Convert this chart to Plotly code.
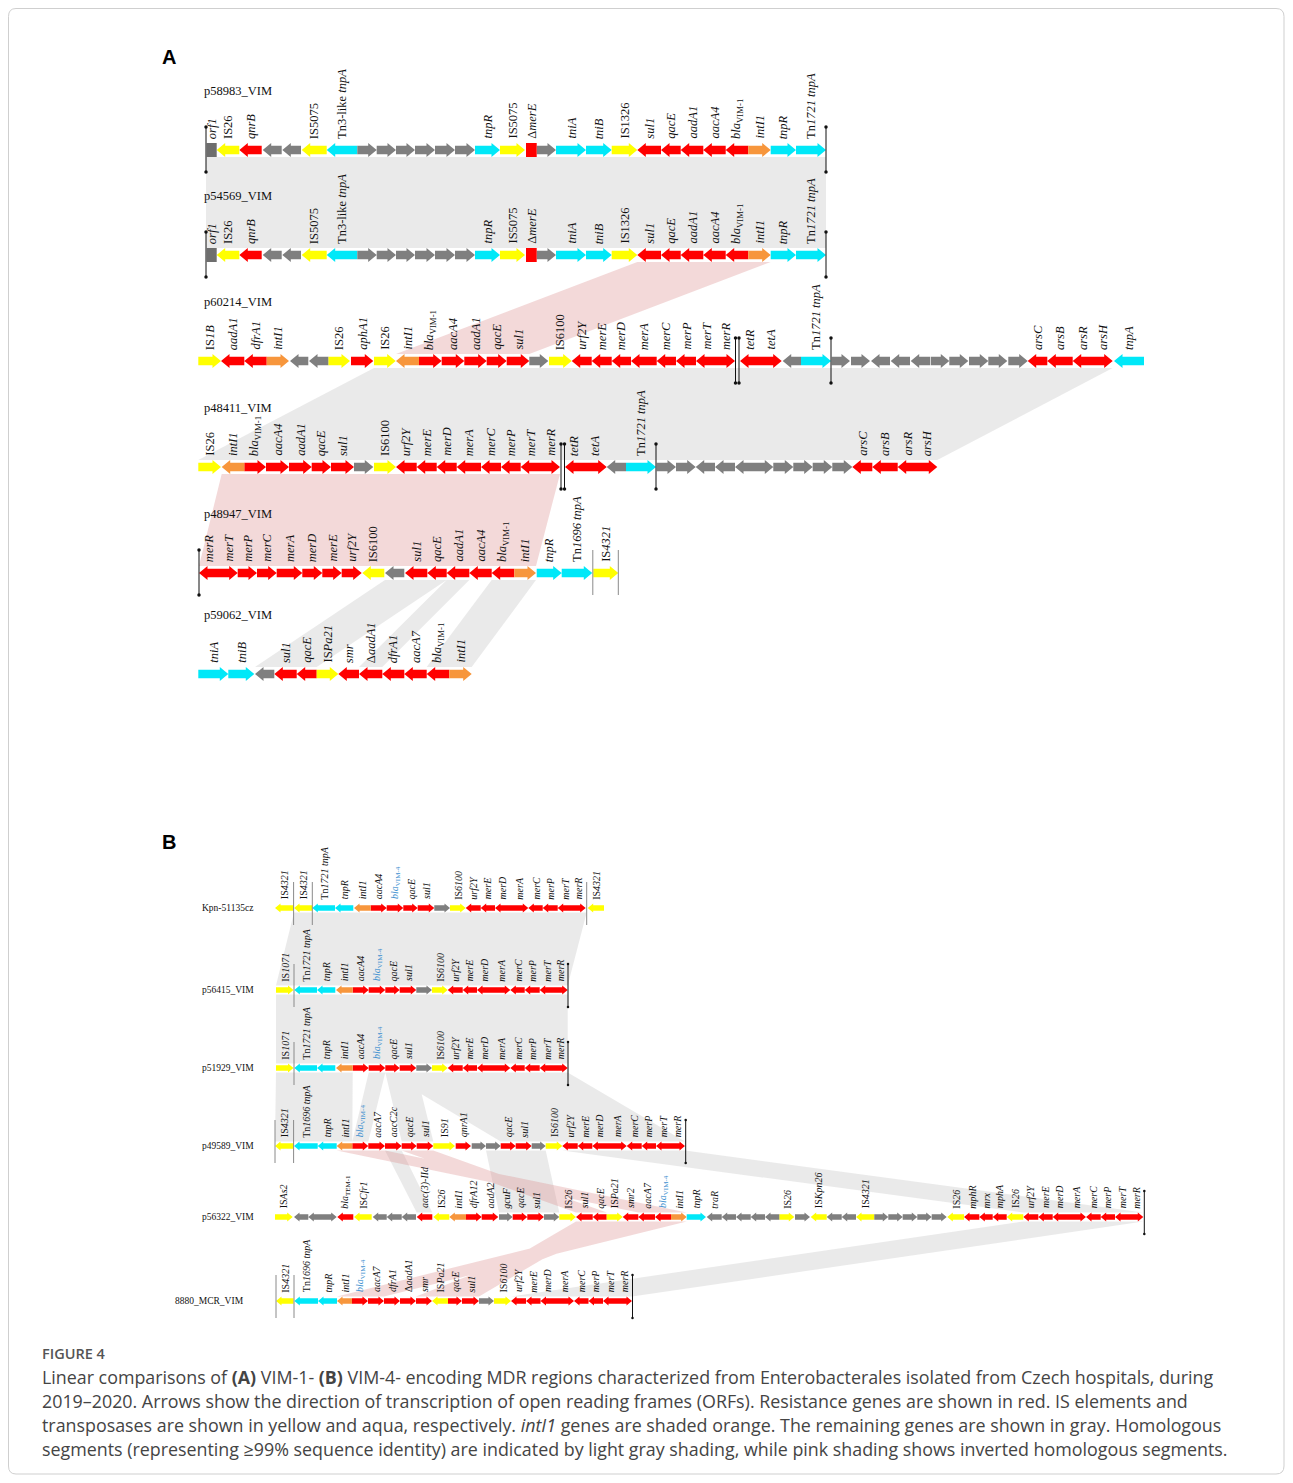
import plotly.graph_objects as go

W, H_PX = 1293, 1483
OFF = 8  # browser body margin

# ---------------- DATA ----------------
# gene tuples: (label, start, end, strand, kind)  strand: 1 right, -1 left, 0 box
# kind: R red, Y yellow(IS), C aqua(transposase), O orange(intI1), G gray, D dark-gray box, X red box
BLA1 = "<i>bla</i><sub>VIM-1</sub>"
BLA4 = "<span style='color:#3d8fcf'><i>bla</i><sub>VIM-4</sub></span>"

A_TITLES = ["p58983_VIM", "p54569_VIM", "p60214_VIM", "p48411_VIM", "p48947_VIM", "p59062_VIM"]
A_TITLE_Y = [91, 196, 302, 408, 514, 615]
A_TRACK_Y = [150, 255, 361, 467, 573, 674]

A1_GENES = [
    ("<i>orf1</i>", 206.7, 216.7, 0, "D"), ("IS26", 216.7, 239.3, -1, "Y"),
    ("<i>qnrB</i>", 239.3, 261.7, -1, "R"), ("", 262.7, 281.7, -1, "G"), ("", 282.3, 301, -1, "G"),
    ("IS5075", 301.7, 326.7, -1, "Y"), ("Tn3-like <i>tnpA</i>", 326.7, 357.3, -1, "C"),
    ("", 357.3, 376.7, 1, "G"), ("", 376.7, 396, 1, "G"), ("", 396, 415, 1, "G"),
    ("", 415, 435, 1, "G"), ("", 435, 455, 1, "G"), ("", 455, 475, 1, "G"),
    ("<i>tnpR</i>", 475, 500, 1, "C"), ("IS5075", 500, 525, 1, "Y"),
    ("Δ<i>merE</i>", 526, 536.7, 0, "X"), ("", 536.7, 556, 1, "G"),
    ("<i>tniA</i>", 556, 586, 1, "C"), ("<i>tniB</i>", 586, 611.7, 1, "C"),
    ("IS1326", 611.7, 637.3, 1, "Y"), ("<i>sul1</i>", 637.3, 661, -1, "R"),
    ("<i>qacE</i>", 661, 680.7, -1, "R"), ("<i>aadA1</i>", 680.7, 703.3, -1, "R"),
    ("<i>aacA4</i>", 703.3, 725.7, -1, "R"), (BLA1, 725.7, 748.3, -1, "R"),
    ("<i>intI1</i>", 748.3, 770.7, 1, "O"), ("<i>tnpR</i>", 770.7, 796, 1, "C"),
    ("Tn<i>1721 tnpA</i>", 796, 826, 1, "C"),
]
A2_GENES = list(A1_GENES)
A3_GENES = [
    ("IS<i>1B</i>", 198.3, 221, 1, "Y"), ("<i>aadA1</i>", 221, 244.3, -1, "R"),
    ("<i>dfrA1</i>", 244.3, 266.7, -1, "R"), ("<i>intI1</i>", 266.7, 289, 1, "O"),
    ("", 290, 308.3, -1, "G"), ("", 309, 328.3, -1, "G"), ("IS26", 328.3, 350, 1, "Y"),
    ("<i>aphA1</i>", 351, 373.3, 1, "R"), ("IS26", 374, 395.7, 1, "Y"),
    ("<i>intI1</i>", 396, 419, -1, "O"), (BLA1, 419, 441.7, 1, "R"),
    ("<i>aacA4</i>", 441.7, 464.3, 1, "R"), ("<i>aadA1</i>", 464.3, 486.7, 1, "R"),
    ("<i>qacE</i>", 486.7, 506.7, 1, "R"), ("<i>sul1</i>", 506.7, 529.3, 1, "R"),
    ("", 529.3, 548.3, 1, "G"), ("IS6100", 549, 571.7, 1, "Y"),
    ("<i>urf2Y</i>", 571.7, 591.7, -1, "R"), ("<i>merE</i>", 591.7, 611.7, -1, "R"),
    ("<i>merD</i>", 611.7, 631, -1, "R"), ("<i>merA</i>", 631, 656.7, -1, "R"),
    ("<i>merC</i>", 656.7, 676, -1, "R"), ("<i>merP</i>", 676, 696, -1, "R"),
    ("<i>merT</i>", 696, 716, -1, "R"), ("<i>merR</i>", 716, 735, 1, "R"),
    ("<i>tetR</i>", 740, 759.3, -1, "R"), ("<i>tetA</i>", 759.3, 781.7, 1, "R"),
    ("", 782.7, 801, -1, "G"), ("Tn<i>1721 tnpA</i>", 801, 831, 1, "C"),
    ("", 831.7, 850, 1, "G"), ("", 851, 870, 1, "G"), ("", 871, 890, -1, "G"),
    ("", 890.7, 910, -1, "G"), ("", 910.7, 930, -1, "G"), ("", 930.7, 949.3, 1, "G"),
    ("", 949.3, 968.3, 1, "G"), ("", 969, 988.3, 1, "G"), ("", 988.3, 1007.3, 1, "G"),
    ("", 1008.3, 1027.7, 1, "G"), ("<i>arsC</i>", 1027.7, 1047.3, -1, "R"),
    ("<i>arsB</i>", 1047.3, 1072.7, -1, "R"), ("<i>arsR</i>", 1072.7, 1093.3, -1, "R"),
    ("<i>arsH</i>", 1093.3, 1112.7, 1, "R"), ("<i>tnpA</i>", 1114, 1144, -1, "C"),
]
A4_GENES = [
    ("IS26", 198.3, 221, 1, "Y"), ("<i>intI1</i>", 221.7, 244.3, -1, "O"),
    (BLA1, 244.3, 266, 1, "R"), ("<i>aacA4</i>", 266, 289, 1, "R"),
    ("<i>aadA1</i>", 289, 311.7, 1, "R"), ("<i>qacE</i>", 311.7, 331, 1, "R"),
    ("<i>sul1</i>", 331, 354, 1, "R"), ("", 354, 373.3, 1, "G"),
    ("IS6100", 374, 396, 1, "Y"), ("<i>urf2Y</i>", 396, 416.7, -1, "R"),
    ("<i>merE</i>", 416.7, 436.7, -1, "R"), ("<i>merD</i>", 436.7, 456.7, -1, "R"),
    ("<i>merA</i>", 456.7, 481, -1, "R"), ("<i>merC</i>", 481, 501, -1, "R"),
    ("<i>merP</i>", 501, 520.7, -1, "R"), ("<i>merT</i>", 520.7, 540.7, -1, "R"),
    ("<i>merR</i>", 540.7, 560, 1, "R"), ("<i>tetR</i>", 565, 583.3, -1, "R"),
    ("<i>tetA</i>", 583.3, 606.7, 1, "R"), ("", 606.7, 626, -1, "G"),
    ("Tn<i>1721 tnpA</i>", 626, 656, 1, "C"),
    ("", 656.7, 676, 1, "G"), ("", 676, 695.7, 1, "G"), ("", 695.7, 715, -1, "G"),
    ("", 715, 735, -1, "G"), ("", 735, 754, -1, "G"), ("", 754, 773.3, 1, "G"),
    ("", 773.3, 793.3, 1, "G"), ("", 793.3, 812.7, 1, "G"), ("", 812.7, 832.3, 1, "G"),
    ("", 832.3, 852.3, 1, "G"), ("<i>arsC</i>", 852.3, 872.3, -1, "R"),
    ("<i>arsB</i>", 872.3, 897.7, -1, "R"), ("<i>arsR</i>", 897.7, 917.3, -1, "R"),
    ("<i>arsH</i>", 917.3, 937.3, 1, "R"),
]
A5_GENES = [
    ("<i>merR</i>", 199, 218.3, -1, "R"), ("<i>merT</i>", 218.3, 237.7, 1, "R"),
    ("<i>merP</i>", 237.7, 257, 1, "R"), ("<i>merC</i>", 257, 276.7, 1, "R"),
    ("<i>merA</i>", 276.7, 302.3, 1, "R"), ("<i>merD</i>", 302.3, 322.3, 1, "R"),
    ("<i>merE</i>", 322.3, 341.7, 1, "R"), ("<i>urf2Y</i>", 341.7, 361.7, 1, "R"),
    ("IS6100", 362.3, 384.3, -1, "Y"), ("", 385, 404.3, -1, "G"),
    ("<i>sul1</i>", 405, 427.3, -1, "R"), ("<i>qacE</i>", 427.3, 446.7, -1, "R"),
    ("<i>aadA1</i>", 446.7, 469.3, -1, "R"), ("<i>aacA4</i>", 469.3, 491.7, -1, "R"),
    (BLA1, 491.7, 514.3, -1, "R"), ("<i>intI1</i>", 514.3, 536, 1, "O"),
    ("<i>tnpR</i>", 536.7, 561.7, 1, "C"), ("Tn<i>1696 tnpA</i>", 561.7, 592.3, 1, "C"),
    ("IS<i>4321</i>", 593.3, 618.3, 1, "Y"),
]
A6_GENES = [
    ("<i>tniA</i>", 198.3, 228.3, 1, "C"), ("<i>tniB</i>", 228.3, 254.3, 1, "C"),
    ("", 255, 274.3, -1, "G"), ("<i>sul1</i>", 274.3, 296.7, -1, "R"),
    ("<i>qacE</i>", 296.7, 316.7, -1, "R"), ("IS<i>Pa21</i>", 316.7, 338.3, 1, "Y"),
    ("<i>smr</i>", 338.3, 359, -1, "R"), ("Δ<i>aadA1</i>", 359, 382.3, -1, "R"),
    ("<i>dfrA1</i>", 382.3, 404.3, -1, "R"), ("<i>aacA7</i>", 404.3, 426.7, -1, "R"),
    (BLA1, 426.7, 449.3, -1, "R"), ("<i>intI1</i>", 449.3, 471.7, 1, "O"),
]
A_GENES = [A1_GENES, A2_GENES, A3_GENES, A4_GENES, A5_GENES, A6_GENES]

# end / junction bars: (track index, x, color)
A_BARS = [(0, 206, "k"), (0, 826, "k"), (1, 206, "k"), (1, 826, "k"),
          (2, 735.5, "k"), (2, 739, "k"), (2, 831, "k"),
          (3, 561, "k"), (3, 564.5, "k"), (3, 656, "k"),
          (4, 199, "k"), (4, 592.8, "g"), (4, 618.3, "g")]

# homology links: (upper track, x0_top, x1_top, x0_bottom, x1_bottom, kind g=same p=inverted)
A_LINKS = [
    (0, 206, 826, 206, 826, "g"),
    (1, 637.3, 770.7, 396, 529.3, "p"),
    (2, 374, 1112.7, 198.3, 937.3, "g"),
    (3, 221.7, 560, 199, 536, "p"),
    (4, 385, 446.7, 255, 316.7, "g"),
    (4, 446.7, 469.3, 359, 382.3, "g"),
    (4, 491.7, 536, 426.7, 471.7, "g"),
]

B_TITLES = ["Kpn-51135cz", "p56415_VIM", "p51929_VIM", "p49589_VIM", "p56322_VIM", "8880_MCR_VIM"]
B_TRACK_Y = [908, 990, 1068, 1146, 1217, 1301]

B1_GENES = [
    ("IS<i>4321</i>", 275, 293.3, -1, "Y"), ("IS<i>4321</i>", 294, 312.3, -1, "Y"),
    ("Tn<i>1721 tnpA</i>", 312.3, 335, -1, "C"), ("<i>tnpR</i>", 335, 353.3, -1, "C"),
    ("<i>intI1</i>", 354, 370.7, -1, "O"), ("<i>aacA4</i>", 370.7, 386.7, 1, "R"),
    (BLA4, 386.7, 403.3, 1, "R"), ("<i>qacE</i>", 403.3, 417.7, 1, "R"),
    ("<i>sul1</i>", 417.7, 434.3, 1, "R"), ("", 434.3, 450, 1, "G"),
    ("IS<i>6100</i>", 450, 465.7, 1, "Y"), ("<i>urf2Y</i>", 465.7, 480.7, -1, "R"),
    ("<i>merE</i>", 480.7, 495, -1, "R"), ("<i>merD</i>", 495, 509, -1, "R"),
    ("<i>merA</i>", 509, 528.3, 1, "R"), ("<i>merC</i>", 528.3, 542.7, -1, "R"),
    ("<i>merP</i>", 542.7, 557.7, -1, "R"), ("<i>merT</i>", 557.7, 571.7, -1, "R"),
    ("<i>merR</i>", 571.7, 585.7, 1, "R"), ("IS<i>4321</i>", 587.7, 604, -1, "Y"),
]
B2_GENES = [
    ("IS<i>1071</i>", 276, 293.5, 1, "Y"), ("Tn<i>1721 tnpA</i>", 294.3, 317, -1, "C"),
    ("<i>tnpR</i>", 317, 335.3, -1, "C"), ("<i>intI1</i>", 336, 352.7, -1, "O"),
    ("<i>aacA4</i>", 352.7, 368.7, 1, "R"), (BLA4, 368.7, 385.3, 1, "R"),
    ("<i>qacE</i>", 385.3, 399.7, 1, "R"), ("<i>sul1</i>", 399.7, 416.3, 1, "R"),
    ("", 416.3, 432, 1, "G"), ("IS<i>6100</i>", 432, 447.7, 1, "Y"),
    ("<i>urf2Y</i>", 447.7, 462.7, -1, "R"), ("<i>merE</i>", 462.7, 477, -1, "R"),
    ("<i>merD</i>", 477, 491, -1, "R"), ("<i>merA</i>", 491, 510.3, 1, "R"),
    ("<i>merC</i>", 510.3, 524.7, -1, "R"), ("<i>merP</i>", 524.7, 539.7, -1, "R"),
    ("<i>merT</i>", 539.7, 553.7, -1, "R"), ("<i>merR</i>", 553.7, 567.7, 1, "R"),
]
B3_GENES = list(B2_GENES)
B4_GENES = [
    ("IS<i>4321</i>", 275, 293.3, -1, "Y"), ("Tn<i>1696 tnpA</i>", 294, 317.7, -1, "C"),
    ("<i>tnpR</i>", 317.7, 336.7, -1, "C"), ("<i>intI1</i>", 336.7, 352.3, -1, "O"),
    (BLA4, 352.3, 368.3, 1, "R"), ("<i>aacA7</i>", 368.3, 385, 1, "R"),
    ("<i>aacC2c</i>", 385, 401.7, 1, "R"), ("<i>qacE</i>", 401.7, 416.7, 1, "R"),
    ("<i>sul1</i>", 416.7, 433.3, 1, "R"), ("IS<i>91</i>", 433.3, 455, 1, "Y"),
    ("<i>qnrA1</i>", 455.7, 471, 1, "R"), ("", 471.7, 486, 1, "G"),
    ("", 486, 500.7, 1, "G"), ("<i>qacE</i>", 500.7, 515.7, 1, "R"),
    ("<i>sul1</i>", 515.7, 531.7, 1, "R"), ("", 531.7, 545.7, 1, "G"),
    ("IS<i>6100</i>", 545.7, 562.3, 1, "Y"), ("<i>urf2Y</i>", 562.3, 577.7, -1, "R"),
    ("<i>merE</i>", 577.7, 592.3, -1, "R"), ("<i>merD</i>", 592.3, 607.3, -1, "R"),
    ("<i>merA</i>", 607.3, 626.7, 1, "R"), ("<i>merC</i>", 626.7, 641.7, -1, "R"),
    ("<i>merP</i>", 641.7, 656, -1, "R"), ("<i>merT</i>", 656, 670.7, -1, "R"),
    ("<i>merR</i>", 670.7, 685, 1, "R"),
]
B5_GENES = [
    ("IS<i>As2</i>", 275, 292.7, 1, "Y"), ("", 294, 308.3, -1, "G"),
    ("", 308.3, 322.7, -1, "G"), ("", 322.7, 336.7, 1, "G"),
    ("<i>bla</i><sub>TEM-1</sub>", 337.3, 353.3, -1, "R"), ("IS<i>Cfr1</i>", 354, 371.7, -1, "Y"),
    ("", 372.7, 386.7, -1, "G"), ("", 386.7, 401.7, -1, "G"), ("", 401.7, 416, -1, "G"),
    ("<i>aac(3)-IId</i>", 416.7, 432.3, -1, "R"), ("IS<i>26</i>", 433.3, 449.3, -1, "Y"),
    ("<i>intI1</i>", 449.3, 466, -1, "O"), ("<i>dfrA12</i>", 466, 481.7, 1, "R"),
    ("<i>aadA2</i>", 481.7, 498.3, 1, "R"), ("<i>gcuF</i>", 499, 512.7, 1, "G"),
    ("<i>qacE</i>", 512.7, 527.3, 1, "R"), ("<i>sul1</i>", 527.3, 544, 1, "R"),
    ("", 544, 559.3, 1, "G"), ("IS<i>26</i>", 559.3, 576, 1, "Y"),
    ("<i>sul1</i>", 576, 592.7, -1, "R"), ("<i>qacE</i>", 592.7, 606.7, -1, "R"),
    ("IS<i>Pa21</i>", 606.7, 622.7, 1, "Y"), ("<i>smr2</i>", 622.7, 638.3, -1, "R"),
    ("<i>aacA7</i>", 638.3, 655, -1, "R"), (BLA4, 655, 671, -1, "R"),
    ("<i>intI1</i>", 671, 686.7, 1, "O"), ("<i>tnpR</i>", 686.7, 706, 1, "C"),
    ("<i>traR</i>", 706.7, 721.7, -1, "G"), ("", 721.7, 736, -1, "G"),
    ("", 736, 750.7, -1, "G"), ("", 750.7, 765, -1, "G"), ("", 765, 779.3, -1, "G"),
    ("IS<i>26</i>", 779.3, 794.3, 1, "Y"), ("", 795, 810, 1, "G"),
    ("IS<i>Kpn26</i>", 810.7, 826.7, -1, "Y"), ("", 826.7, 841.7, -1, "G"),
    ("", 841.7, 856, -1, "G"), ("IS<i>4321</i>", 856, 874.3, -1, "Y"),
    ("", 874.3, 888.3, 1, "G"), ("", 888.3, 902.7, 1, "G"), ("", 902.7, 917.3, 1, "G"),
    ("", 917.3, 931.7, 1, "G"), ("", 931.7, 946.7, 1, "G"),
    ("IS<i>26</i>", 947.3, 964, -1, "Y"), ("<i>mphR</i>", 964, 979.3, -1, "R"),
    ("<i>mrx</i>", 979.3, 992.7, -1, "R"), ("<i>mphA</i>", 992.7, 1006.7, -1, "R"),
    ("IS<i>26</i>", 1006.7, 1023.3, -1, "Y"), ("<i>urf2Y</i>", 1023.3, 1038.3, -1, "R"),
    ("<i>merE</i>", 1038.3, 1052.7, -1, "R"), ("<i>merD</i>", 1052.7, 1066.7, -1, "R"),
    ("<i>merA</i>", 1066.7, 1086, 1, "R"), ("<i>merC</i>", 1086, 1100.7, -1, "R"),
    ("<i>merP</i>", 1100.7, 1115, -1, "R"), ("<i>merT</i>", 1115, 1129.3, -1, "R"),
    ("<i>merR</i>", 1129.3, 1143.3, 1, "R"),
]
B6_GENES = [
    ("IS<i>4321</i>", 276, 293.5, -1, "Y"), ("Tn<i>1696 tnpA</i>", 294.3, 318, -1, "C"),
    ("<i>tnpR</i>", 318, 337, -1, "C"), ("<i>intI1</i>", 337, 352, -1, "O"),
    (BLA4, 352, 368, 1, "R"), ("<i>aacA7</i>", 368, 384, 1, "R"),
    ("<i>dfrA1</i>", 384, 400, 1, "R"), ("Δ<i>aadA1</i>", 400, 416, 1, "R"),
    ("<i>smr</i>", 416, 432, 1, "R"), ("IS<i>Pa21</i>", 432, 448, -1, "Y"),
    ("<i>qacE</i>", 448, 462, 1, "R"), ("<i>sul1</i>", 462, 479, 1, "R"),
    ("", 479, 494, 1, "G"), ("IS<i>6100</i>", 494, 511, 1, "Y"),
    ("<i>urf2Y</i>", 511, 526, -1, "R"), ("<i>merE</i>", 526, 540.5, -1, "R"),
    ("<i>merD</i>", 540.5, 554.5, -1, "R"), ("<i>merA</i>", 554.5, 574, 1, "R"),
    ("<i>merC</i>", 574, 588.5, -1, "R"), ("<i>merP</i>", 588.5, 603, -1, "R"),
    ("<i>merT</i>", 603, 617.5, -1, "R"), ("<i>merR</i>", 617.5, 632, 1, "R"),
]
B_GENES = [B1_GENES, B2_GENES, B3_GENES, B4_GENES, B5_GENES, B6_GENES]

B_BARS = [(0, 293.6, "g"), (0, 312.3, "g"), (0, 586.7, "g"),
          (1, 294, "g"), (1, 568, "k"), (2, 294, "g"), (2, 568, "k"),
          (3, 275, "g"), (3, 293.6, "g"), (3, 685.7, "k"),
          (4, 1144.3, "k"),
          (5, 276, "g"), (5, 294, "g"), (5, 632.5, "k")]

B_LINKS = [
    (0, 294, 586.7, 276, 567.7, "g"),
    (1, 276, 567.7, 276, 567.7, "g"),
    (2, 276, 352.7, 275, 352.3, "g"),
    (2, 368.7, 385.3, 352.3, 368.3, "g"),
    (2, 385.3, 416.3, 401.7, 433.3, "g"),
    (2, 385.3, 416.3, 500.7, 531.7, "g"),
    (2, 416.3, 567.7, 531.7, 685, "g"),
    (3, 562.3, 685, 1023.3, 1143.3, "g"),
    (3, 336.7, 385, 638.3, 686.7, "p"),
    (3, 401.7, 433.3, 576, 606.7, "p"),
    (3, 486, 545.7, 499, 559.3, "g"),
    (3, 385, 401.7, 416.7, 432.3, "g"),
    (4, 1023.3, 1143.3, 511, 632, "g"),
    (4, 576, 606.7, 448, 479, "p"),
    (4, 606.7, 638.3, 416, 448, "p"),
    (4, 638.3, 686.7, 337, 384, "p"),
]

CAPTION_LINES = [
    "Linear comparisons of <b>(A)</b> VIM-1- <b>(B)</b> VIM-4- encoding MDR regions characterized from Enterobacterales isolated from Czech hospitals, during",
    "2019–2020. Arrows show the direction of transcription of open reading frames (ORFs). Resistance genes are shown in red. IS elements and",
    "transposases are shown in yellow and aqua, respectively. <i>intI1</i> genes are shaded orange. The remaining genes are shown in gray. Homologous",
    "segments (representing ≥99% sequence identity) are indicated by light gray shading, while pink shading shows inverted homologous segments.",
]

# ---------------- STYLE ----------------
COLORS = {"R": "#ff0000", "Y": "#ffff00", "C": "#00e8f8", "O": "#f7963c",
          "G": "#7f7f7f", "D": "#6e6e6e", "X": "#ff0000"}
LINK_COLORS = {"g": "rgba(200,200,200,0.38)", "p": "rgba(220,140,140,0.33)"}
SERIF = "Liberation Serif"

fig = go.Figure()


def arrow_pts(x0, x1, s, yc, hh, bh, hl):
    if s == 0:
        return [(x0, yc - hh), (x1, yc - hh), (x1, yc + hh), (x0, yc + hh)]
    L = min(hl, (x1 - x0) * 0.6)
    if s == 1:
        return [(x0, yc - bh), (x1 - L, yc - bh), (x1 - L, yc - hh), (x1, yc),
                (x1 - L, yc + hh), (x1 - L, yc + bh), (x0, yc + bh)]
    return [(x1, yc - bh), (x0 + L, yc - bh), (x0 + L, yc - hh), (x0, yc),
            (x0 + L, yc + hh), (x0 + L, yc + bh), (x1, yc + bh)]


def add_links(links, ys, hh):
    for kind in ("g", "p"):
        xs, yy = [], []
        for (t, a0, a1, b0, b1, k) in links:
            if k != kind:
                continue
            yt, yb = ys[t] + hh, ys[t + 1] - hh
            xs += [a0, a1, b1, b0, a0, None]
            yy += [yt, yt, yb, yb, yt, None]
        fig.add_trace(go.Scatter(x=xs, y=yy, mode="lines", fill="toself",
                                 fillcolor=LINK_COLORS[kind], line=dict(width=0),
                                 hoverinfo="skip", showlegend=False))


def add_genes(tracks, ys, hh, bh, hl, fsize, lab_gap):
    for kind, col in COLORS.items():
        xs, yy = [], []
        for genes, yc in zip(tracks, ys):
            for (lab, x0, x1, s, k) in genes:
                if k != kind:
                    continue
                pts = arrow_pts(x0, x1, s, yc, hh, bh, hl)
                xs += [p[0] for p in pts] + [pts[0][0], None]
                yy += [p[1] for p in pts] + [pts[0][1], None]
        if xs:
            fig.add_trace(go.Scatter(x=xs, y=yy, mode="lines", fill="toself",
                                     fillcolor=col, line=dict(width=0),
                                     hoverinfo="skip", showlegend=False))
    for genes, yc in zip(tracks, ys):
        for (lab, x0, x1, s, k) in genes:
            if not lab:
                continue
            fig.add_annotation(x=(x0 + x1) / 2, y=yc - hh - lab_gap, text=lab,
                               textangle=-90, showarrow=False, xanchor="center",
                               yanchor="bottom",
                               font=dict(family=SERIF, size=fsize, color="#111"))


def add_bars(bars, ys, up, down, dot):
    for (t, x, c) in bars:
        if c == "k":
            fig.add_trace(go.Scatter(x=[x, x], y=[ys[t] - up, ys[t] + down], mode="lines+markers",
                                     line=dict(color="#111111", width=1),
                                     marker=dict(size=dot, color="#111111"),
                                     hoverinfo="skip", showlegend=False))
        else:
            fig.add_trace(go.Scatter(x=[x, x], y=[ys[t] - up, ys[t] + down], mode="lines",
                                     line=dict(color="#8a8a8a", width=1),
                                     hoverinfo="skip", showlegend=False))


# panel A
add_links(A_LINKS, A_TRACK_Y, 7)
add_genes(A_GENES, A_TRACK_Y, 7, 4.2, 8.5, 12.5, 2)
add_bars(A_BARS, A_TRACK_Y, 23, 22, 3.5)
for t, ty in zip(A_TITLES, A_TITLE_Y):
    fig.add_annotation(x=202, y=ty, text=t, showarrow=False, xanchor="left", yanchor="middle",
                       font=dict(family=SERIF, size=12.5, color="#111"))

# panel B
add_links(B_LINKS, B_TRACK_Y, 4.5)
add_genes(B_GENES, B_TRACK_Y, 4.5, 2.7, 5.5, 10, 2)
add_bars(B_BARS, B_TRACK_Y, 26, 17, 2.5)
for i, (t, ty) in enumerate(zip(B_TITLES, B_TRACK_Y)):
    if i == 5:
        fig.add_annotation(x=246, y=ty, text=t, showarrow=False, xanchor="right", yanchor="middle",
                           font=dict(family=SERIF, size=9.5, color="#111"))
    else:
        fig.add_annotation(x=200, y=ty, text=t, showarrow=False, xanchor="left", yanchor="middle",
                           font=dict(family=SERIF, size=9.5, color="#111"))

# panel letters
for lab, ly in (("A", 57), ("B", 842)):
    fig.add_annotation(x=160, y=ly, text="<b>%s</b>" % lab, showarrow=False, xanchor="left",
                       yanchor="middle", font=dict(family="Liberation Sans", size=20, color="#000"))

# caption
fig.add_annotation(x=40, y=1353, text="FIGURE 4", showarrow=False, xanchor="left", yanchor="middle",
                   font=dict(family="Open Sans", size=14.5, color="#555", weight=600))
for i, line in enumerate(CAPTION_LINES):
    fig.add_annotation(x=40, y=1377 + 24 * i, text=line, showarrow=False, xanchor="left",
                       yanchor="middle", font=dict(family="Open Sans", size=17.85, color="#444"))

# frame
fig.add_shape(type="path", xref="x", yref="y",
              path="M 16,8.5 L 1276,8.5 Q 1284,8.5 1284,16.5 L 1284,1466 Q 1284,1474 1276,1474 "
                   "L 16,1474 Q 8.5,1474 8.5,1466 L 8.5,16.5 Q 8.5,8.5 16,8.5 Z",
              line=dict(color="#cfcfcf", width=1), layer="below")

fig.update_xaxes(range=[OFF, W - OFF], visible=False, fixedrange=True)
fig.update_yaxes(range=[H_PX - OFF, OFF], visible=False, fixedrange=True)
fig.update_layout(width=W - 2 * OFF, height=H_PX - 2 * OFF, margin=dict(l=0, r=0, t=0, b=0),
                  plot_bgcolor="white", paper_bgcolor="white", showlegend=False)

fig.write_html("out.html")
